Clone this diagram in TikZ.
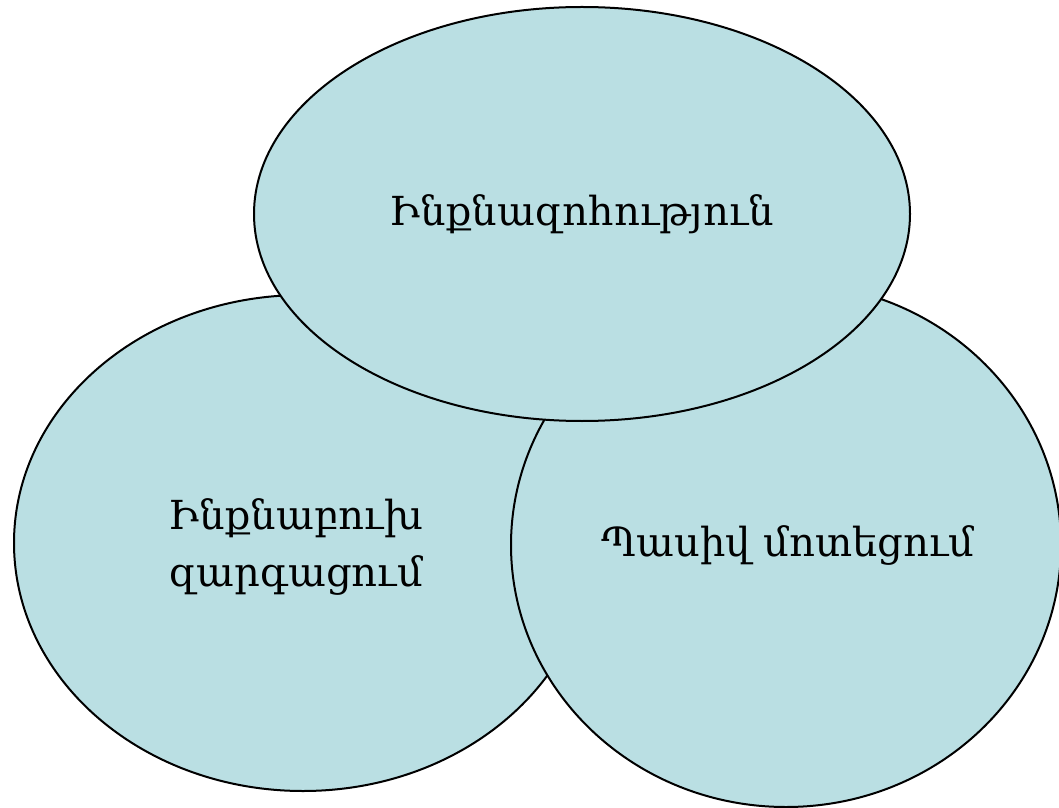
\documentclass[tikz,border=0pt]{standalone}
\usepackage{fontspec}
\setmainfont{DejaVu Serif}
\newfontfamily\armfont{DejaVu Serif}
\definecolor{cellfill}{HTML}{BADFE3}
\begin{document}
\begin{tikzpicture}[x=1pt,y=1pt,
  blob/.style={draw=black,line width=2pt,fill=cellfill},
  lbl/.style={font=\armfont\fontsize{40}{57}\selectfont,align=center}]
\useasboundingbox (0,0) rectangle (1059,807);
\draw[blob] (303,264) ellipse [x radius=289,y radius=248];
\draw[blob] (786,262) ellipse [x radius=275,y radius=262];
\draw[blob] (582,593) ellipse [x radius=328,y radius=207];
\node[lbl] (top) at (582,593) {Ինքնազոհություն};
\node[lbl] (left) at (296,260) {Ինքնաբուխ\\զարգացում};
\node[lbl] (right) at (788,262) {Պասիվ մոտեցում};
\end{tikzpicture}
\end{document}
